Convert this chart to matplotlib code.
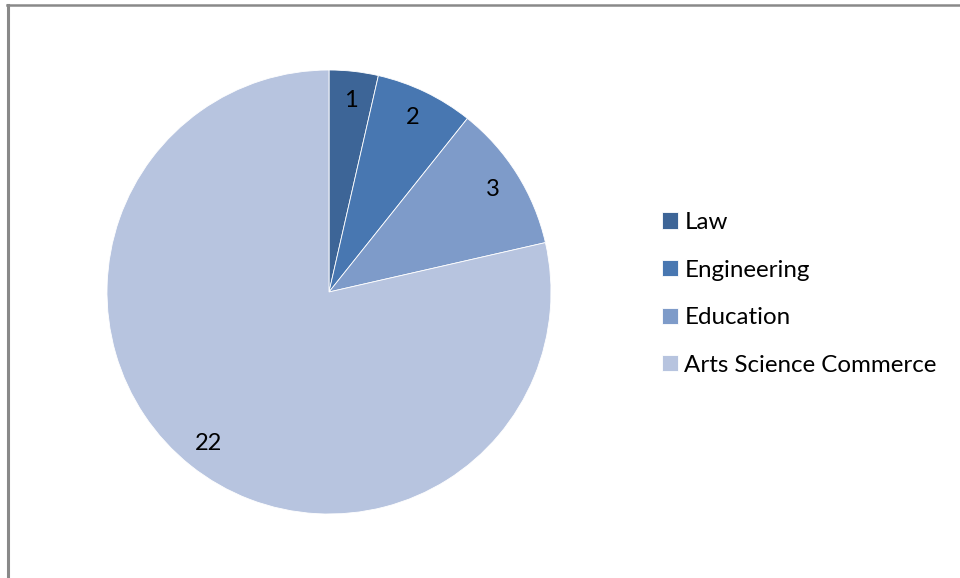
import matplotlib.pyplot as plt
from matplotlib.lines import Line2D

# Number of colleges by stream
categorias = ['Law', 'Engineering', 'Education', 'Arts Science Commerce']
valores = [1, 2, 3, 22]
cores = ['#3D6597', '#4877B1', '#7E9BC9', '#B7C4DF']

W, H = 960, 578
fig = plt.figure(figsize=(W / 100, H / 100), dpi=100)
fig.patch.set_facecolor('white')

# Chart frame (only top and left edges fall inside the image)
fig.add_artist(Line2D([7.5 / W, 7.5 / W], [0, 1 - 5 / H], color='#898989', lw=2.2, transform=fig.transFigure))
fig.add_artist(Line2D([6.5 / W, 1], [1 - 5 / H, 1 - 5 / H], color='#898989', lw=1.8, transform=fig.transFigure))

# Pie centred at (329, 292) px with radius 222 px
cx, cy, r = 329, 292, 222
ax = fig.add_axes([(cx - r) / W, (H - cy - r) / H, 2 * r / W, 2 * r / H])
total = sum(valores)
fatias, textos, rotulos = ax.pie(
    valores, colors=cores, startangle=90, counterclock=False,
    autopct=lambda p: '{:d}'.format(int(round(p * total / 100.0))),
    pctdistance=0.87,
    wedgeprops=dict(edgecolor='white', linewidth=0.6),
    textprops=dict(fontsize=17, family='Lato', color='black'))
ax.set_xlim(-1, 1)
ax.set_ylim(-1, 1)
ax.set_aspect('auto')
ax.axis('off')

fig.legend(fatias, categorias, loc='upper left',
           bbox_to_anchor=(662 / W, 1 - 212 / H),
           frameon=False, prop=dict(family='Lato', size=17.4),
           handlelength=0.65, handleheight=0.65, handletextpad=0.28,
           labelspacing=1.1, borderaxespad=0, borderpad=0)

fig.savefig('out.png', dpi=100)
